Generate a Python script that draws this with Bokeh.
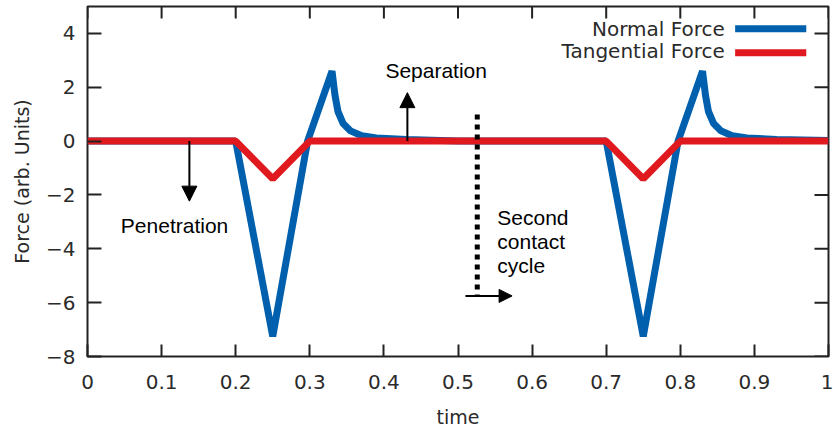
import math
from bokeh.plotting import figure
from bokeh.models import Range1d, FixedTicker, Label, Arrow, NormalHead
from bokeh.embed import file_html
from bokeh.resources import INLINE

# ---- data ----
time_normal = [0.0, 0.2, 0.25, 0.297, 0.33, 0.334, 0.338, 0.345, 0.355, 0.37, 0.39, 0.43, 0.5,
               0.7, 0.75, 0.797, 0.83, 0.834, 0.838, 0.845, 0.855, 0.87, 0.89, 0.93, 1.0]
normal_force = [0.0, 0.0, -7.25, 0.0, 2.6, 1.7, 1.1, 0.65, 0.38, 0.2, 0.12, 0.06, 0.0,
                0.0, -7.25, 0.0, 2.6, 1.7, 1.1, 0.65, 0.38, 0.2, 0.12, 0.06, 0.02]
time_tangential = [0.0, 0.2, 0.25, 0.3, 0.7, 0.75, 0.8, 1.0]
tangential_force = [0.0, 0.0, -1.4, 0.0, 0.0, -1.4, 0.0, 0.0]

series_names = ["Normal Force", "Tangential Force"]
series_colors = ["#0060ad", "#e0191f"]

x_ticks = [0, 0.1, 0.2, 0.3, 0.4, 0.5, 0.6, 0.7, 0.8, 0.9, 1]
x_tick_labels = ["0", "0.1", "0.2", "0.3", "0.4", "0.5", "0.6", "0.7", "0.8", "0.9", "1"]
y_ticks = [-8, -6, -4, -2, 0, 2, 4]

X_MIN, X_MAX, Y_MIN, Y_MAX = 0, 1, -8, 5

TXT = "#2a2a2a"
BORDER = "#222222"
TICK_FONT = "DejaVu Sans"
ANN_FONT = "Liberation Sans"

p = figure(width=833, height=432, x_range=Range1d(X_MIN, X_MAX), y_range=Range1d(Y_MIN, Y_MAX),
           output_backend="svg", toolbar_location=None,
           min_border_left=87, min_border_right=5, min_border_top=6, min_border_bottom=76,
           x_axis_label="time", y_axis_label="Force (arb. Units)")
p.grid.visible = False
p.background_fill_color = "white"
p.border_fill_color = "white"
p.outline_line_color = BORDER
p.outline_line_width = 2
p.outline_line_alpha = 1.0

p.xaxis.ticker = FixedTicker(ticks=x_ticks)
p.xaxis.major_label_overrides = {t: s for t, s in zip(x_ticks, x_tick_labels)}
p.yaxis.ticker = FixedTicker(ticks=y_ticks)

for ax in p.xaxis + p.yaxis:
    ax.axis_line_color = None
    ax.minor_tick_line_color = None
    ax.major_tick_out = 0
    ax.major_tick_line_color = BORDER
    ax.major_tick_line_width = 2
    ax.major_label_text_font = TICK_FONT
    ax.major_label_text_font_size = "20px"
    ax.major_label_text_color = TXT
    ax.axis_label_text_font = TICK_FONT
    ax.axis_label_text_font_size = "19px"
    ax.axis_label_text_font_style = "normal"
    ax.axis_label_text_color = TXT

p.xaxis.major_tick_in = 12
p.yaxis.major_tick_in = 14
p.xaxis.major_label_standoff = 18
p.xaxis.axis_label_standoff = 14
p.yaxis.major_label_standoff = 12
p.yaxis.axis_label_standoff = 10

# mirrored ticks on the right and top border (gnuplot-style box); outer half clipped by the frame
p.scatter([X_MAX] * len(y_ticks), y_ticks, marker="dash", size=28,
          line_color=BORDER, line_width=2)
p.scatter(x_ticks, [Y_MAX] * len(x_ticks), marker="dash", size=24, angle=math.pi / 2,
          line_color=BORDER, line_width=2)

# series
p.line(time_normal, normal_force, line_width=7, line_color=series_colors[0], line_join="bevel")
p.line(time_tangential, tangential_force, line_width=7, line_color=series_colors[1], line_join="bevel")

# legend drawn gnuplot-style (text then sample)
legend_y_text = [4.18, 3.33]
legend_y_line = [4.17, 3.28]
for name, col, yt, yl in zip(series_names, series_colors, legend_y_text, legend_y_line):
    p.add_layout(Label(x=0.860, y=yt, text=name, text_align="right", text_baseline="alphabetic",
                       text_font=TICK_FONT, text_font_size="20px", text_color=TXT))
    p.add_layout(Arrow(end=None, start=None, x_start=0.874, y_start=yl, x_end=0.970, y_end=yl,
                       line_color=col, line_width=7, line_cap="butt"))

# annotations
def ann(x, y, text):
    p.add_layout(Label(x=x, y=y, text=text, text_align="left", text_baseline="alphabetic",
                       text_font=ANN_FONT, text_font_size="21px", text_color="black"))

ann(0.402, 2.64, "Separation")
ann(0.045, -3.14, "Penetration")
ann(0.553, -2.83, "Second")
ann(0.553, -3.72, "contact")
ann(0.553, -4.61, "cycle")

p.add_layout(Arrow(end=NormalHead(size=15, fill_color="black", line_color="black", line_width=1),
                   x_start=0.1375, y_start=0.0, x_end=0.1375, y_end=-2.23,
                   line_color="black", line_width=2))
p.add_layout(Arrow(end=NormalHead(size=15, fill_color="black", line_color="black", line_width=1),
                   x_start=0.4317, y_start=0.0, x_end=0.4317, y_end=1.80,
                   line_color="black", line_width=2))
p.add_layout(Arrow(end=None, start=None, x_start=0.526, y_start=0.99, x_end=0.526, y_end=-5.75,
                   line_color="black", line_width=5, line_dash="5 5", line_cap="butt"))
p.add_layout(Arrow(end=NormalHead(size=13, fill_color="black", line_color="black", line_width=1),
                   x_start=0.510, y_start=-5.75, x_end=0.573, y_end=-5.75,
                   line_color="black", line_width=2))

open("out.html", "w").write(file_html(p, INLINE))
